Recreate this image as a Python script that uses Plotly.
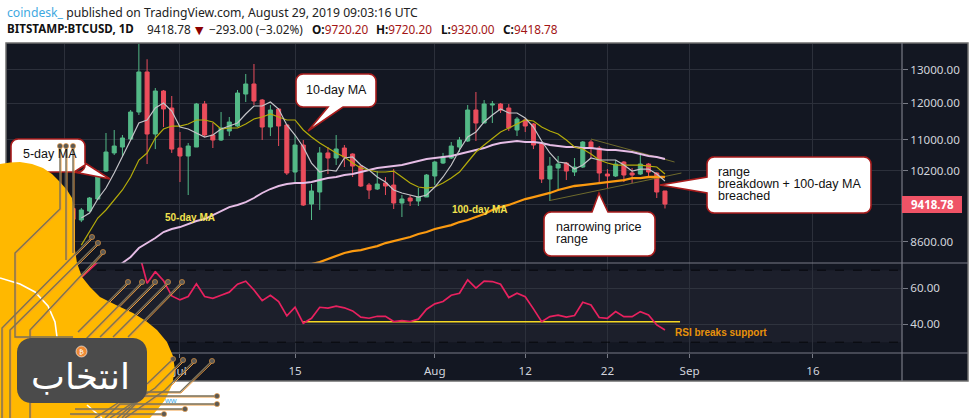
import math
import pandas as pd
import plotly.graph_objects as go

# ---------- data ----------
opens = [8230,8690,8860,8990,9320,9065,9263,9534,10197,10650,10803,11012,11751,12938,11146,12360,11865,10777,10572,10803,11980,11119,10986,11227,11362,12270,12570,12095,11335,11836,11390,10173,10855,9420,9696,10650,10521,10777,10623,10320,9860,9766,9908,9860,9443,9557,9488,9580,10076,10395,10521,10803,10960,11808,11445,11950,11980,11865,11254,11528,11417,10881,10003,10271,10395,10173,10296,10934,10777,10124,10076,10420,10149,10124,10370,10149,9720.20]
highs = [8700,8880,9350,9450,9350,9330,9580,10222,11173,11254,11119,11808,13880,13340,12449,12390,12212,11200,10907,12010,12067,11445,11751,11611,12390,12875,13189,12125,11950,11865,11417,11119,10986,9884,10803,10803,11119,10855,10640,10330,9908,10197,10052,10246,9626,9626,9789,10124,10445,10650,10934,11065,11950,12330,12095,12067,12010,11980,11611,11583,11445,10907,10546,10572,10420,10521,10960,10986,10829,10246,10471,10445,10271,10623,10395,10173,9720.20]
lows = [8180,8620,8850,8990,8900,9020,9241,9511,10173,10597,10572,10986,11667,10370,10750,11335,10650,9931,9626,10803,11065,10777,10960,11092,11335,12037,11950,10986,11092,10829,10100,9931,9375,9065,9286,10124,10345,10296,10052,9813,9534,9742,9626,9308,9130,9375,9375,9580,9860,10370,10496,10674,10934,10960,11445,11445,11723,11227,11092,11200,10750,9908,9488,9720,9979,10076,10271,10521,9908,9789,10052,9931,9908,10100,10052,9557,9320.00]
closes = [8690,8860,8990,9320,9080,9286,9557,10052,10674,10829,11039,11751,12938,11146,12360,11837,10750,10572,10829,11980,11119,10986,11308,11472,12300,12570,12067,11335,11808,11362,10149,10855,9397,9720,10650,10521,10752,10546,10320,9836,9742,9884,9836,9443,9534,9488,9580,10100,10420,10546,10829,10986,11808,11445,11980,11980,11808,11308,11555,11362,10855,10003,10320,10370,10197,10296,10934,10777,10149,10076,10370,10100,10100,10370,10173,9696,9418.78]

ma5 = [9108,9219,9534,9789,10149,10547,10986,11445,11528,11865,12009,11780,
       11335,11281,11173,11065,11119,11281,11362,11445,11695,11922,11922,12037,11836,11390,11119,10803,10395,10173,10222,10197,10522,10547,10345,10222,10052,9932,9743,9673,9627,9580,9627,
       9813,10052,10345,10725,11065,11200,11473,11667,11836,11723,11723,11583,11335,10960,10649,10421,10395,10246,10345,10522,10471,10471,10471,10345,10197,10246,10246,10124,9955]
ma10 = [8535,8828,9108,9286,9511,9743,10052,10471,10649,11039,11281,11362,
        11362,11417,11528,11528,11473,11281,11308,11308,11417,11556,11611,11695,11611,11528,11528,11254,11065,10907,10777,10649,10547,10395,10271,10222,10173,10173,10197,10052,9908,9813,9789,
        9813,9908,10027,10173,10421,10674,10855,11039,11200,11308,11417,11528,11500,11335,11227,11146,10986,10803,10751,10623,10471,10395,10345,10345,10345,10345,10320,10296,10124]
ma50 = [8038,8175,8294,8475,8577,8681,8807,8871,
        8913,8979,9043,9087,9173,9263,9352,9398,9465,9557,9673,9766,9837,9884,9908,9908,9932,9979,10027,10052,10100,10124,10173,10222,10271,10296,10320,10345,10395,10446,10497,
        10522,10547,10572,10623,10674,10725,10777,10855,10907,10934,10960,10934,10934,10907,10855,10829,10803,10803,10777,10777,10751,10725,10725,10700,10674,10623,10572,10547,10497]
ma100 = [8096,8155,8194,8254,8313,8374,8414,8433,8475,8515,8577,8619,8660,8702,8765,8807,
         8871,8913,8956,9021,9065,9130,9196,9286,9352,9398,9465,9534,9580,9627,9673,9743,9789,9837,9860,9884,9908,9932,9955,9979,10027,10027,10052,10052,10052]
rsi = [66,70,74.5,76,75,76,77,80,62.8,69.2,64.2,55.7,
       53.5,55.4,62.4,55.4,54.4,56.1,57.8,62.2,63.9,59,53.1,56.1,52.6,44.6,49.4,40.5,43.3,49.4,48.9,50,49.1,47.4,43.9,43.3,44.4,44.4,41.5,42,41.5,42.8,48.3,
       51.3,52.6,56.1,57.2,64.6,60,63.9,63.7,62.2,54.8,57.2,55.3,48.5,41.4,44.2,45,43.9,44.8,52.2,50.7,43.7,43.3,47,44.2,44.2,47,45.1,39.6,36.8]

trend_upper_dates = ["2019-08-20", "2019-08-30 04:00"]
trend_upper = [11012, 10421]
trend_lower_dates = ["2019-08-15", "2019-08-31"]
trend_lower = [9500, 10149]
support_dates = ["2019-07-16", "2019-08-30 20:00"]
support = [41.3, 41.3]

date_ticks = ["2019-06-17", "2019-07-01", "2019-07-15", "2019-08-01", "2019-08-12", "2019-08-22", "2019-09-01", "2019-09-16"]
date_labels = ["17", "Jul", "15", "Aug", "12", "22", "Sep", "16"]
price_ticks = [13000, 12000, 11000, 10200, 9400, 8600]
price_labels = ["13000.00", "12000.00", "11000.00", "10200.00", "", "8600.00"]
rsi_ticks = [60, 40]
rsi_labels = ["60.00", "40.00"]

# ---------- helpers ----------
W, H = 975, 418
END = "2019-08-29"
def dates(v):
    return pd.date_range(end=END, periods=len(v), freq="D")
def px(x): return x / W
def py(y): return 1 - y / H
def path(pts, close=False):
    s = "M" + " L".join(f"{px(x):.5f},{py(y):.5f}" for x, y in pts)
    return s + (" Z" if close else "")

BG = "#131722"; GRID = "#2c303b"; AX = "#787b86"; TXT = "#d1d4dc"
UP = "#53b987"; DOWN = "#eb4d5c"
RED = "#a81c1c"

fig = go.Figure()
fig.add_trace(go.Candlestick(x=dates(closes), open=opens, high=highs, low=lows, close=closes,
    increasing=dict(line=dict(color=UP, width=1), fillcolor=UP),
    decreasing=dict(line=dict(color=DOWN, width=1), fillcolor=DOWN),
    whiskerwidth=0, showlegend=False, xaxis="x", yaxis="y"))
def ln(x, y, color, width, xa="x", ya="y"):
    fig.add_trace(go.Scatter(x=x, y=y, mode="lines", line=dict(color=color, width=width),
                             showlegend=False, hoverinfo="skip", xaxis=xa, yaxis=ya))
ln(trend_upper_dates, trend_upper, "#6e6a2c", 1)
ln(trend_lower_dates, trend_lower, "#6e6a2c", 1)
ln(dates(ma100), ma100, "#fb9a10", 2.3)
ln(dates(ma50), ma50, "#e6bde6", 1.9)
ln(dates(ma10), ma10, "#b4ac0a", 1.2)
ln(dates(ma5), ma5, "#c4c4c8", 1.2)
ln(support_dates, support, "#f5d823", 1.5, "x2", "y2")
ln(dates(rsi), rsi, "#e8215f", 1.7, "x2", "y2")

shapes = []
shapes.append(dict(type="rect", xref="paper", yref="paper", x0=px(6), x1=px(968), y0=py(381), y1=py(43),
                   fillcolor=BG, line=dict(color="#6e6e6e", width=1.5), layer="below"))
shapes.append(dict(type="rect", xref="x2 domain", yref="y2", x0=0, x1=1, y0=30, y1=70,
                   fillcolor="#1c1f2b", line=dict(width=0), layer="below"))
for v in (30, 70):
    shapes.append(dict(type="line", xref="x2 domain", yref="y2", x0=0, x1=1, y0=v, y1=v,
                       line=dict(color="#07080c", width=1, dash="dash"), layer="above"))
for pts in ([(6, 263), (968, 263)], [(6, 353), (968, 353)], [(902, 43), (902, 381)]):
    shapes.append(dict(type="path", xref="paper", yref="paper", path=path(pts),
                       line=dict(color=AX, width=1.2), layer="above"))
shapes.append(dict(type="rect", xref="paper", yref="paper", x0=px(902), x1=px(962), y0=py(213), y1=py(196),
                   fillcolor="#ef5366", line=dict(width=0), layer="above"))

def callout(x0, y0, x1, y1, side, ptr, r=7):
    n = 5
    pts = []
    for cx, cy, a0 in ((x1 - r, y0 + r, -90), (x1 - r, y1 - r, 0), (x0 + r, y1 - r, 90), (x0 + r, y0 + r, 180)):
        for i in range(n + 1):
            a = math.radians(a0 + 90 * i / n)
            pts.append((cx + r * math.cos(a), cy + r * math.sin(a)))
    idx = {"right": 6, "bottom": 12, "left": 18, "top": 24}[side]
    pts = pts[:idx] + list(ptr) + pts[idx:]
    shapes.append(dict(type="path", xref="paper", yref="paper", path=path(pts, True),
                       fillcolor="white", line=dict(color=RED, width=1.6), layer="above"))

callout(296, 74, 376, 107, "bottom", ((343, 107), (308, 131), (328, 107)))
callout(707, 157, 871, 213, "left", ((707, 193), (660, 185), (707, 177)))
callout(544, 212, 655, 256, "top", ((592, 212), (599, 193), (608, 212)))
callout(11, 139, 85, 172, "right", ((85, 163), (110, 179), (74, 172)))

# logo blob
blob = [(0,164),(10,162.5),(20,162),(32,164),(43,168),(52,174),(60,182),(67,190),(72,198),(75,212),(75,250),(77,263),(82,277),(90,287),(100,297),(116,305),(133,313),(146,321),(157,330),(167,342),(173,356),(175,370),(172,385),(165,400),(157,410),(150,418),(0,418)]
shapes.append(dict(type="path", xref="paper", yref="paper", path=path(blob, True),
                   fillcolor="#ffb800", line=dict(width=0), layer="above"))
for arc in ([(0,278),(20,284),(35,292),(48,306),(55,322),(57,337)], [(87,405),(95,412),(102,418)]):
    shapes.append(dict(type="path", xref="paper", yref="paper", path=path(arc),
                       line=dict(color="white", width=1.6), layer="above"))
wires = [
    [(60,146),(60,209),(15,253),(15,337),(73,337)],
    [(66,146),(66,260)],
    [(73,146),(73,253)],
    [(92,237),(2,328),(2,418)],
    [(98,243),(10,330),(10,418)],
    [(103,252),(30,330),(30,418)],
    [(128,282),(78,332)],
    [(142,282),(85,340)],
    [(155,282),(100,337)],
    [(168,282),(113,337)],
    [(182,282),(128,337)],
    [(173,359),(148,383),(95,418)],
    [(183,360),(155,388),(110,418)],
    [(194,361),(165,390),(125,418)],
    [(212,361),(180,392),(147,392),(122,418)],
    [(217,396),(143,396),(117,418)],
    [(217,404),(120,404),(105,418)],
    [(185,409),(75,409)],
    [(164,414),(70,414)],
]
for w in wires:
    shapes.append(dict(type="path", xref="paper", yref="paper",
                       path=path([(x + 1, y + 1) for x, y in w]),
                       line=dict(color="#ee9a3c", width=1), layer="above"))
for w in wires:
    shapes.append(dict(type="path", xref="paper", yref="paper", path=path(w),
                       line=dict(color="#7a7058", width=1.4), layer="above"))
for w in wires:
    x, y = w[0]
    if y > 330 and y < 350:
        continue
    shapes.append(dict(type="circle", xref="paper", yref="paper", x0=px(x-2.6), x1=px(x+2.6), y0=py(y+2.6), y1=py(y-2.6),
                       fillcolor="#5c5a55", line=dict(color="#ee9a3c", width=0.6), layer="above"))
# logo tile
pts = []
r = 14
for cx, cy, a0 in ((147-r, 338+r, -90), (147-r, 403-r, 0), (17+r, 403-r, 90), (17+r, 338+r, 180)):
    for i in range(7):
        a = math.radians(a0 + 15 * i)
        pts.append((cx + r*math.cos(a), cy + r*math.sin(a)))
shapes.append(dict(type="path", xref="paper", yref="paper", path=path(pts, True),
                   fillcolor="#4b4b4b", line=dict(width=0), layer="above"))
shapes.append(dict(type="circle", xref="paper", yref="paper", x0=px(76), x1=px(87), y0=py(357), y1=py(346),
                   fillcolor="#ee8a35", line=dict(color="white", width=0.6), layer="above"))

def note(x, y, text, size=12, color="#111", family="Liberation Sans", anchor="left"):
    return dict(xref="paper", yref="paper", x=px(x - (1.5 if anchor == "left" else 0)), y=py(y), text=text, showarrow=False,
                xanchor=anchor, yanchor="middle", align="left",
                font=dict(size=size, color=color, family=family))

DR = "#a31515"
line1 = '<span style="color:#3fa9df">coindesk_</span> published on TradingView.com, August 29, 2019 09:03:16 UTC'
annotations = [
    note(6, 12, line1, 12.2, "#222", "Noto Sans"),
    note(6, 29, "<b>BITSTAMP:BTCUSD, 1D</b>", 11.6, "#111", "Noto Sans"),
    note(146, 29, "9418.78", 11.8, "#222", "Noto Sans"),
    note(199, 30, "▼", 11, "#8b0000", "DejaVu Sans", "center"),
    note(208, 29, "−293.00 (−3.02%)", 11.8, "#222", "Noto Sans"),
    note(311, 29, f'<b>O:</b><span style="color:{DR}">9720.20</span>', 11.8, "#111", "Noto Sans"),
    note(375, 29, f'<b>H:</b><span style="color:{DR}">9720.20</span>', 11.8, "#111", "Noto Sans"),
    note(440, 29, f'<b>L:</b><span style="color:{DR}">9320.00</span>', 11.8, "#111", "Noto Sans"),
    note(502, 29, f'<b>C:</b><span style="color:{DR}">9418.78</span>', 11.8, "#111", "Noto Sans"),
    note(932, 204.5, "<b>9418.78</b>", 11.5, "white", "Noto Sans", "center"),
    note(336, 90, "10-day MA", 12.5, "#111", anchor="center"),
    note(22, 154, "5-day MA", 12.5, "#111"),
    note(717, 172, "range", 12.5),
    note(717, 184, "breakdown + 100-day MA", 12.5),
    note(717, 196, "breached", 12.5),
    note(555, 227, "narrowing price", 12.5),
    note(555, 239, "range", 12.5),
    note(164, 218, "<b>50-day MA</b>", 10, "#f2e24e"),
    note(451, 209, "<b>100-day MA</b>", 10, "#f2e24e"),
    note(674, 332, "<b>RSI breaks support</b>", 10, "#e8920a"),
    note(163, 400, "ww", 8, "#3fa9df"),
    note(81.5, 351.5, "₿", 7, "white", "DejaVu Sans", "center"),
    note(80, 376, "انتخاب", 36, "white", "DejaVu Sans", "center"),
]

xcommon = dict(type="date", range=["2019-06-09 23:00", "2019-09-26 20:00"], tickmode="array",
               tickvals=date_ticks, showgrid=True, gridcolor=GRID, gridwidth=1, zeroline=False,
               domain=[px(7), px(902)], rangeslider=dict(visible=False), showline=False)
tickf = dict(size=11.6, color=TXT, family="Noto Sans")
fig.update_layout(
    width=W, height=H, margin=dict(l=0, r=0, t=0, b=0), autosize=False,
    paper_bgcolor="white", plot_bgcolor="rgba(0,0,0,0)", showlegend=False, hovermode=False,
    xaxis=dict(**xcommon, anchor="y", showticklabels=False, ticks=""),
    xaxis2=dict(**xcommon, anchor="y2", ticktext=date_labels, ticks="outside", ticklen=4, tickcolor=AX,
                tickfont=tickf, ticklabelstandoff=3),
    yaxis=dict(type="log", range=[math.log10(8175), math.log10(13838)],
               domain=[py(263), py(44)], side="right", anchor="x", tickmode="array",
               tickvals=price_ticks, ticktext=price_labels, gridcolor=GRID, gridwidth=1, zeroline=False,
               ticks="outside", ticklen=5, tickcolor=AX, tickfont=tickf, showline=False),
    yaxis2=dict(range=[24, 74], domain=[py(353), py(263)], side="right", anchor="x2", tickmode="array",
                tickvals=rsi_ticks, ticktext=rsi_labels, gridcolor="#2f333e", gridwidth=1, zeroline=False,
                ticks="outside", ticklen=5, tickcolor=AX, tickfont=tickf, showline=False),
    shapes=shapes, annotations=annotations,
)
fig.write_html("out.html", config={"displayModeBar": False},
               post_script="document.body.style.margin='0';document.documentElement.style.overflow='hidden';")
